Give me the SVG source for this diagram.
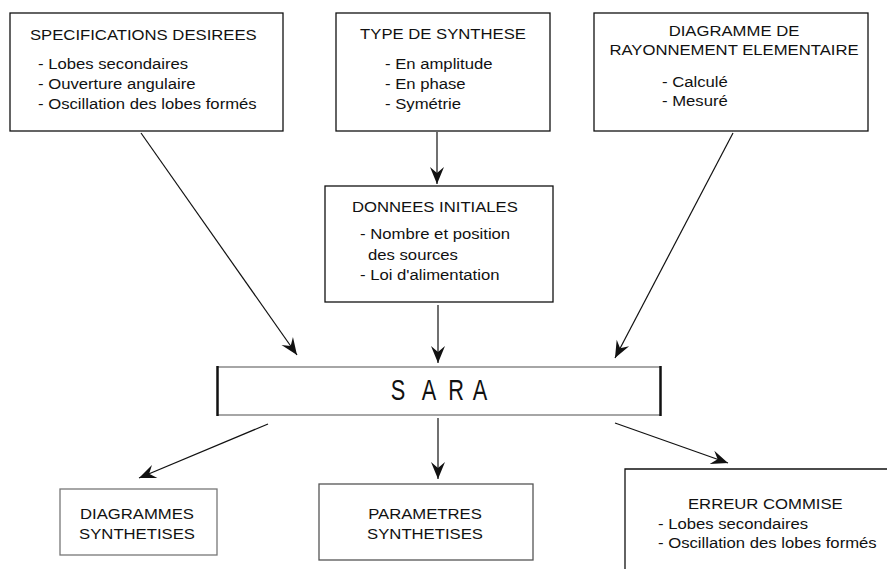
<svg xmlns="http://www.w3.org/2000/svg" width="887" height="569" viewBox="0 0 887 569">
<style>
.box{fill:#fff;stroke:#111;stroke-width:1.3}
.gbox{fill:#fff;stroke:#777;stroke-width:1.3}
.t{font-family:"Liberation Sans",Arial,sans-serif;font-size:15.3px;fill:#111}
.m{text-anchor:middle}
.c{stroke:#111;stroke-width:1.2;fill:none;marker-end:url(#ah)}
.sara{font-family:"Liberation Sans",Arial,sans-serif;font-size:29px;fill:#111;text-anchor:middle}
</style>
<defs>
<marker id="ah" markerUnits="userSpaceOnUse" markerWidth="22" markerHeight="18" viewBox="-20 -9 22 18" refX="0" refY="0" orient="auto">
<path d="M0,0 L-17,-7 L-11,0 L-17,7 Z" fill="#111"/>
</marker>
</defs>
<rect width="887" height="569" fill="#fff"/>
<g id="specifications">
<rect class="box" x="10" y="13" width="273" height="118"/>
<text class="t" transform="translate(30,39.5) scale(1.09,1)">SPECIFICATIONS DESIREES</text>
<text class="t" transform="translate(38,69) scale(1.09,1)">- Lobes secondaires</text>
<text class="t" transform="translate(38,89) scale(1.09,1)">- Ouverture angulaire</text>
<text class="t" transform="translate(38,109) scale(1.09,1)">- Oscillation des lobes formés</text>
</g>
<g id="type-synthese">
<rect class="box" x="336" y="13" width="214" height="118"/>
<text class="t m" transform="translate(443,38.5) scale(1.09,1)">TYPE DE SYNTHESE</text>
<text class="t" transform="translate(385,69) scale(1.09,1)">- En amplitude</text>
<text class="t" transform="translate(385,89) scale(1.09,1)">- En phase</text>
<text class="t" transform="translate(385,109) scale(1.09,1)">- Symétrie</text>
</g>
<g id="diagramme-elementaire">
<rect class="box" x="594" y="13" width="274" height="118"/>
<text class="t m" transform="translate(734,36) scale(1.09,1)">DIAGRAMME DE</text>
<text class="t m" transform="translate(734,55) scale(1.09,1)">RAYONNEMENT ELEMENTAIRE</text>
<text class="t" transform="translate(662,87) scale(1.09,1)">- Calculé</text>
<text class="t" transform="translate(662,106) scale(1.09,1)">- Mesuré</text>
</g>
<g id="donnees-initiales">
<rect class="box" x="325" y="186" width="228" height="116"/>
<text class="t" transform="translate(352,212) scale(1.09,1)">DONNEES INITIALES</text>
<text class="t" transform="translate(360,239) scale(1.09,1)">- Nombre et position</text>
<text class="t" transform="translate(368,260) scale(1.09,1)">des sources</text>
<text class="t" transform="translate(360,280) scale(1.09,1)">- Loi d'alimentation</text>
</g>
<g id="sara">
<rect x="217" y="367" width="444" height="48" fill="#fff"/>
<line x1="217" y1="367" x2="661" y2="367" stroke="#888" stroke-width="1.5"/>
<line x1="217" y1="415" x2="661" y2="415" stroke="#888" stroke-width="1.5"/>
<line x1="217.5" y1="366" x2="217.5" y2="416" stroke="#111" stroke-width="2.5"/>
<line x1="660.5" y1="366" x2="660.5" y2="416" stroke="#111" stroke-width="2.5"/>
<text class="sara" transform="translate(398,400) scale(0.75,1)">S</text>
<text class="sara" transform="translate(429,400) scale(0.75,1)">A</text>
<text class="sara" transform="translate(456,400) scale(0.75,1)">R</text>
<text class="sara" transform="translate(480,400) scale(0.75,1)">A</text>
</g>
<g id="diagrammes-synthetises">
<rect class="gbox" x="60" y="489" width="157" height="66"/>
<text class="t m" transform="translate(137,519) scale(1.09,1)">DIAGRAMMES</text>
<text class="t m" transform="translate(137,539) scale(1.09,1)">SYNTHETISES</text>
</g>
<g id="parametres-synthetises">
<rect class="gbox" x="319" y="484" width="214" height="76" style="stroke:#555"/>
<text class="t m" transform="translate(425,519) scale(1.09,1)">PARAMETRES</text>
<text class="t m" transform="translate(425,539) scale(1.09,1)">SYNTHETISES</text>
</g>
<g id="erreur-commise">
<path d="M625,570 L625,469 L888,469" fill="#fff" stroke="#111" stroke-width="1.3"/>
<text class="t" transform="translate(688,509) scale(1.09,1)">ERREUR COMMISE</text>
<text class="t" transform="translate(658,529) scale(1.09,1)">- Lobes secondaires</text>
<text class="t" transform="translate(658,548) scale(1.09,1)">- Oscillation des lobes formés</text>
</g>
<g id="connectors">
<line class="c" x1="141" y1="133" x2="297" y2="355"/>
<line class="c" x1="437" y1="132" x2="437" y2="184"/>
<line class="c" x1="438" y1="305" x2="438" y2="363"/>
<line class="c" x1="733" y1="133" x2="615" y2="358"/>
<line class="c" x1="268" y1="424" x2="139" y2="478"/>
<line class="c" x1="438" y1="418" x2="438" y2="479"/>
<line class="c" x1="615" y1="423" x2="728" y2="463"/>
</g>
</svg>
